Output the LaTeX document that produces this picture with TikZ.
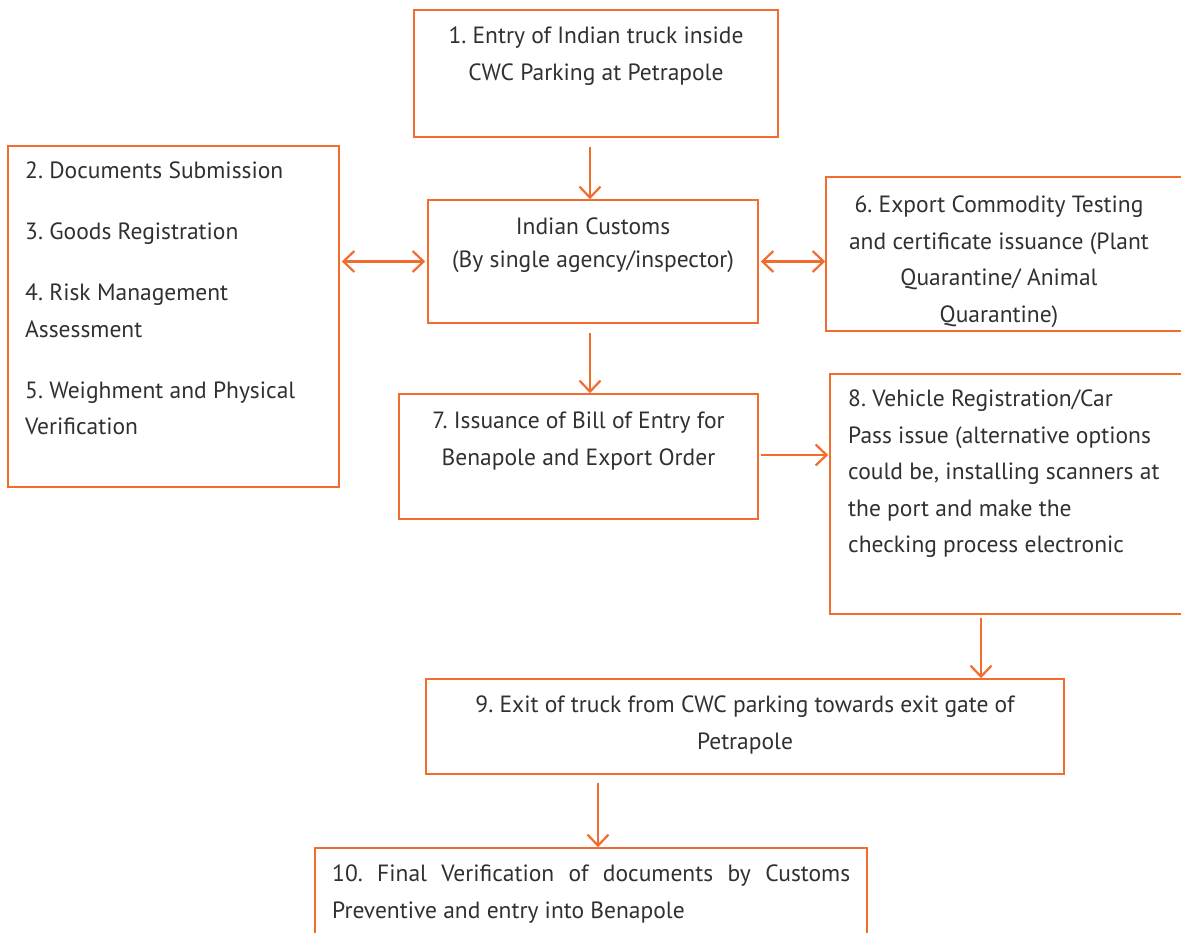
\documentclass[tikz,border=0pt]{standalone}
\usepackage{fontspec}
\setmainfont{PT Sans}
\usetikzlibrary{arrows.meta}
\definecolor{orng}{HTML}{F26D2D}
\definecolor{txt}{HTML}{303030}
\frenchspacing
\tikzset{
  box/.style={draw=orng, line width=1.6pt, inner sep=0pt, rectangle},
  lbl/.style={inner sep=0pt, text=txt, font=\fontsize{23.5}{36.5}\selectfont},
  tip/.tip={Straight Barb[length=11pt,width=21pt,line width=2.2pt]},
  arr/.style={draw=orng, line width=2.2pt, -tip},
  darr/.style={draw=orng, line width=2.2pt, tip-tip}
}
\begin{document}
\begin{tikzpicture}[x=1pt,y=-1pt]
\useasboundingbox (0,0) rectangle (1181,932);
% boxes
\node[box, minimum width=364pt, minimum height=127pt] (b1) at (596,73.5) {};
\node[box, minimum width=331pt, minimum height=341pt] (b2) at (173.5,316.5) {};
\node[box, minimum width=330pt, minimum height=123pt] (cu) at (593,261.5) {};
\node[box, minimum width=357pt, minimum height=154pt] (b6) at (1004.5,254) {};
\node[box, minimum width=359pt, minimum height=125pt] (b7) at (578.5,456.5) {};
\node[box, minimum width=353pt, minimum height=240pt] (b8) at (1006.5,494) {};
\node[box, minimum width=638pt, minimum height=95pt] (b9) at (745,726.5) {};
\node[box, minimum width=552pt, minimum height=92pt] (b10) at (591,894) {};
% texts
\node[lbl, align=center, anchor=north] (t1) at (596,27) {1. Entry of Indian truck inside\\CWC Parking at Petrapole};
\node[lbl, align=left, anchor=north west] (t2) at (25,162) {2. Documents Submission\\[24.5pt]3. Goods Registration\\[24.5pt]4. Risk Management\\Assessment\\[24.5pt]5. Weighment and Physical\\Verification};
\node[lbl, align=center, anchor=north] (tc) at (593,218) {Indian Customs\\[-3.5pt](By single agency/inspector)};
\node[lbl, align=center, anchor=north] (t6) at (999,196) {6. Export Commodity Testing\\and certificate issuance (Plant\\Quarantine/ Animal\\Quarantine)};
\node[lbl, align=center, anchor=north] (t7) at (578.5,412) {7. Issuance of Bill of Entry for\\Benapole and Export Order};
\node[lbl, align=left, anchor=north west] (t8) at (848,390) {8. Vehicle Registration/Car\\Pass issue (alternative options\\could be, installing scanners at\\the port and make the\\checking process electronic};
\node[lbl, align=center, anchor=north] (t9) at (745,696) {9. Exit of truck from CWC parking towards exit gate of\\Petrapole};
\node[lbl, align=left, anchor=north west] (t10) at (332,865) {\makebox[518pt][s]{10. Final Verification of documents by Customs}\\Preventive and entry into Benapole};
% connectors
\draw[arr, shorten <=9pt] ([xshift=-6pt]b1.south) -- ([xshift=-3pt]cu.north);
\draw[darr, shorten <=2pt, shorten >=2pt] (cu.west) -- (cu.west -| b2.east);
\draw[darr, shorten <=2pt] (cu.east) -- (cu.east -| b6.west);
\draw[arr, shorten <=9pt] ([xshift=-3pt]cu.south) -- ([xshift=11.5pt]b7.north);
\draw[arr, shorten <=2pt, shorten >=1pt] ([yshift=1.5pt]b7.east) -- ([yshift=1.5pt]b7.east -| b8.west);
\draw[arr, shorten <=3pt] ([xshift=-25.5pt]b8.south) -- ([xshift=-25.5pt]b8.south |- b9.north);
\draw[arr, shorten <=8pt] ([xshift=-147pt]b9.south) -- ([xshift=7pt]b10.north);
\end{tikzpicture}
\end{document}
